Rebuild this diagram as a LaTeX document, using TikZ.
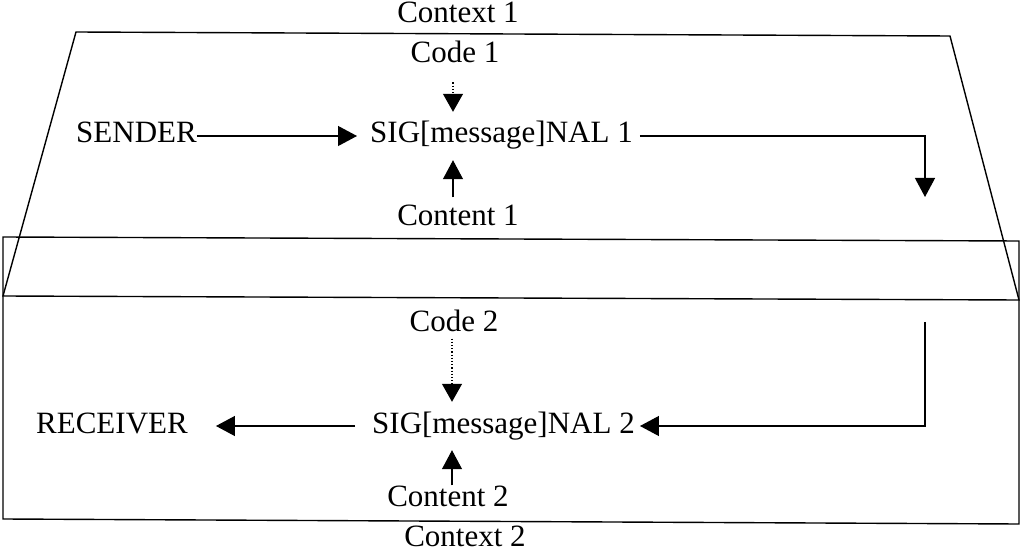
\documentclass[tikz,border=0pt]{standalone}
\usepackage{fontspec}
\setmainfont{Liberation Serif}
\usetikzlibrary{arrows.meta}
\begin{document}
\begin{tikzpicture}[x=1pt,y=-1pt,
  lbl/.style={inner sep=0pt,font=\fontsize{31}{36}\selectfont},
  signode/.style={lbl,text height=31pt,text depth=17pt},
  frame/.style={line width=1.4pt,line join=miter},
  arr/.style={line width=1.2pt,-{Triangle[width=20pt,length=19pt]}},
  dotarr/.style={line width=1.2pt,dotted,-{Triangle[width=20pt,length=18pt]}}]
\useasboundingbox (0,0) rectangle (1023,553);
% frames
\draw[frame] (76,32) -- (950,36) -- (1019,300) -- (3,296) -- cycle;
\draw[frame] (3,237) -- (1019,241) -- (1019,524) -- (3,519) -- cycle;
% labels
\node[lbl,anchor=base] (ctx1) at (458,23) {Context 1};
\node[lbl,anchor=base] (code1) at (455,63) {Code 1};
\node[lbl,anchor=base west] (sender) at (76,143) {SENDER};
\node[signode,anchor=base west] (sig1) at (370,143) {SIG[message]NAL 1};
\node[lbl,anchor=base] (cont1) at (458,226) {Content 1};
\node[lbl,anchor=base] (code2) at (454,332) {Code 2};
\node[lbl,anchor=base west] (recv) at (36,433) {RECEIVER};
\node[signode,anchor=base west] (sig2) at (372,433) {SIG[message]NAL 2};
\node[lbl,anchor=base] (cont2) at (448,506) {Content 2};
\node[lbl,anchor=base] (ctx2) at (465,546) {Context 2};
% free ends
\coordinate (end1) at (925,197);
\coordinate (start2) at (925,322);
% connectors
\draw[arr,shorten >=13pt] (sender.east |- sig1.west) -- (sig1.west);
\draw[dotarr,shorten <=19pt] ([xshift=-2pt]code1.south) -- ([xshift=-2pt]code1.south |- sig1.north);
\draw[arr,shorten <=8pt] ([xshift=-5pt]cont1.north) -- ([xshift=-5pt]cont1.north |- sig1.south);
\draw[arr,shorten <=7pt] (sig1.east) -| (end1);
\draw[dotarr,shorten <=6pt] ([xshift=-2pt]code2.south) -- ([xshift=-2pt]code2.south |- sig2.north);
\draw[arr] ([xshift=4pt]cont2.north) -- ([xshift=4pt]cont2.north |- sig2.south);
\draw[arr,shorten >=5pt] (start2) |- (sig2.east);
\draw[arr,shorten <=17pt,shorten >=28pt] (sig2.west) -- (sig2.west -| recv.east);
\end{tikzpicture}
\end{document}
